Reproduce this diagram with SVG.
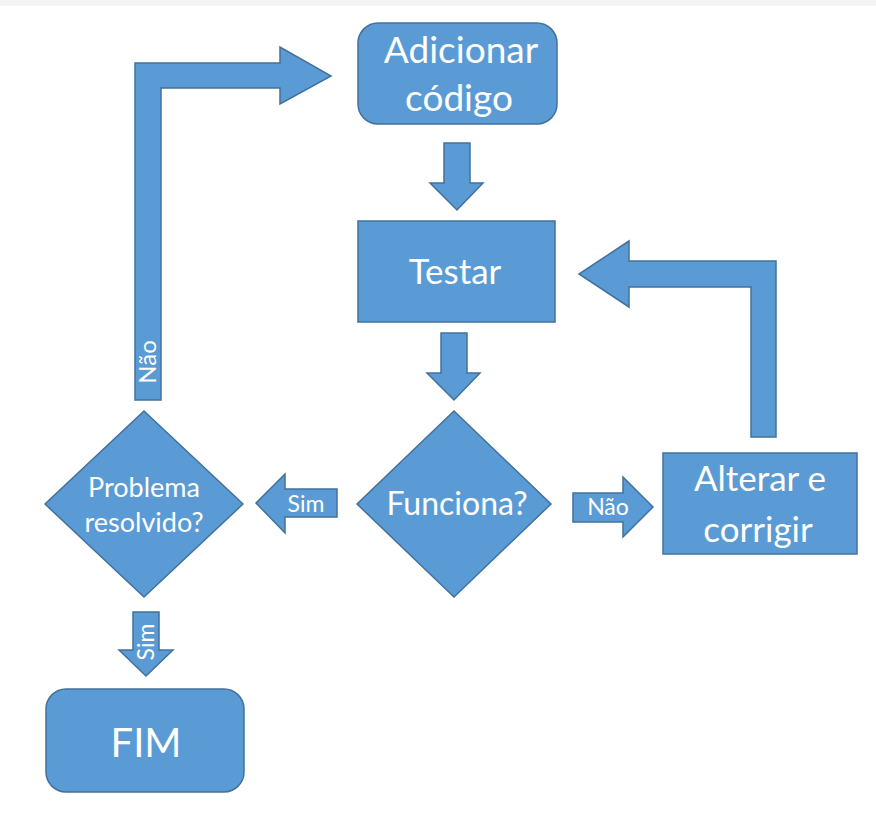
<svg xmlns="http://www.w3.org/2000/svg" width="876" height="814" viewBox="0 0 876 814">
<style>
.shape{fill:#5B9BD5;stroke:#41719C;stroke-width:1.5;stroke-linejoin:miter}
.t{fill:#FFFFFF;font-family:Lato,"Open Sans","Liberation Sans",sans-serif;text-anchor:middle}
</style>
<rect x="0" y="0" width="876" height="814" fill="#FFFFFF"/>
<rect x="0" y="0" width="876" height="6" fill="#F4F4F4"/>
<g id="connectors">
  <g id="c-nao-loop">
    <path class="shape" d="M135,400 L135,63 L280,63 L280,47 L331,76 L280,104 L280,88 L161,88 L161,400 Z"/>
    <text class="t" font-size="24" transform="translate(156,362) rotate(-90)">Não</text>
  </g>
  <path id="c-add-test" class="shape" d="M444,143 L470,143 L470,183 L483,183 L457,210 L430,183 L444,183 Z"/>
  <path id="c-test-func" class="shape" d="M441,333 L467,333 L467,373 L480,373 L454,400 L427,373 L441,373 Z"/>
  <g id="c-func-alt">
    <path class="shape" d="M573,493 L623,493 L623,477 L653,507 L623,537 L623,522 L573,522 Z"/>
    <text class="t" font-size="23" x="608" y="515">Não</text>
  </g>
  <path id="c-alt-test" class="shape" d="M751,437 L751,287 L629,287 L629,307 L579,274 L629,241 L629,261 L776,261 L776,437 Z"/>
  <g id="c-func-prob">
    <path class="shape" d="M337,489 L337,517 L285,517 L285,533 L256,503 L285,474 L285,489 Z"/>
    <text class="t" font-size="23" x="306" y="512">Sim</text>
  </g>
  <g id="c-prob-fim">
    <path class="shape" d="M133,612 L159,612 L159,650 L173,650 L146,676 L119,650 L133,650 Z"/>
    <text class="t" font-size="23" transform="translate(154,642) rotate(-90)">Sim</text>
  </g>
</g>
<g id="n-adicionar">
  <rect class="shape" x="358" y="23" width="199" height="101" rx="20" ry="20"/>
  <text class="t" font-size="37" x="461" y="63">Adicionar</text>
  <text class="t" font-size="37" x="459" y="111">código</text>
</g>
<g id="n-testar">
  <rect class="shape" x="358" y="221" width="197" height="101"/>
  <text class="t" font-size="35" x="455" y="284">Testar</text>
</g>
<g id="n-funciona">
  <polygon class="shape" points="454,411 551,504 454,597 357,504"/>
  <text class="t" font-size="32" x="457" y="515">Funciona?</text>
</g>
<g id="n-alterar">
  <rect class="shape" x="663" y="453" width="194" height="101"/>
  <text class="t" font-size="35" x="760" y="491">Alterar e</text>
  <text class="t" font-size="35" x="758" y="542">corrigir</text>
</g>
<g id="n-problema">
  <polygon class="shape" points="144,411 243,504 144,597 45,504"/>
  <text class="t" font-size="27" x="144" y="497">Problema</text>
  <text class="t" font-size="27" x="144" y="532">resolvido?</text>
</g>
<g id="n-fim">
  <rect class="shape" x="46" y="689" width="198" height="103" rx="20" ry="20"/>
  <text class="t" font-size="40" x="146" y="757">FIM</text>
</g>
</svg>
